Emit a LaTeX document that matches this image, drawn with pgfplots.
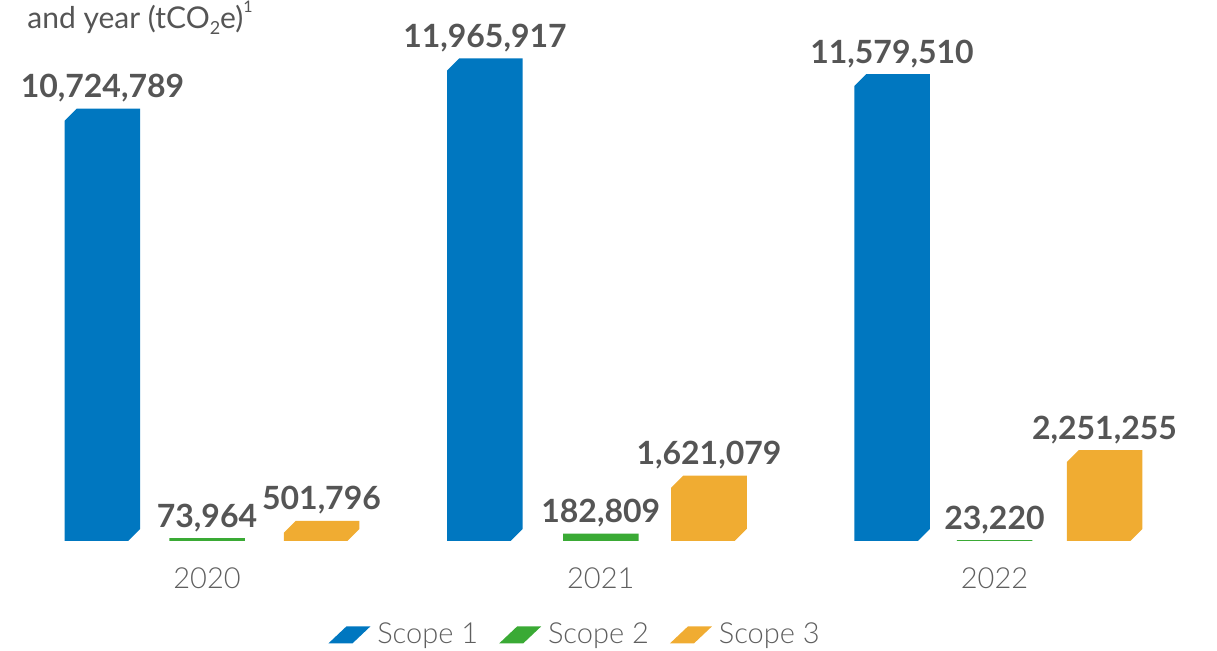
\documentclass[border=0pt]{standalone}
\usepackage{pgfplots}
\pgfplotsset{compat=1.18}
\usepackage{pgfplotstable}
\usepackage{fontspec}
\setmainfont{Lato}
\newfontfamily\latolight{Lato Light}

\definecolor{scopeone}{RGB}{0,119,192}
\definecolor{scopetwo}{RGB}{58,170,53}
\definecolor{scopethree}{RGB}{240,172,50}
\definecolor{labelgrey}{RGB}{85,85,85}
\definecolor{tickgrey}{RGB}{95,95,95}

% emissions per scope and year, printed labels, and where each bar sits
\pgfplotstableread{
x  p1       s1        s1lab       p2  s2      s2lab    p3      s3       s3lab
0  -0.2654  10724789  10,724,789  0   73964   73,964   0.2908  501796   501,796
1  0.7060   11965917  11,965,917  1   182809  182,809  1.2749  1621079  1,621,079
2  1.7397   11579510  11,579,510  2   23220   23,220   2.2794  2251255  2,251,255
}\emissions

% bars with the top-left and bottom-right corners cut off
\makeatletter
\newdimen\chxa \newdimen\chya \newdimen\chxb \newdimen\chyb \newdimen\chc
\def\chamfersize{6bp}
\let\origrectcorners\pgfpathrectanglecorners
\let\origrect\pgfpathrectangle
\def\chamferdraw{%
  \ifdim\chxa>\chxb \chc=\chxa \chxa=\chxb \chxb=\chc \fi
  \ifdim\chya>\chyb \chc=\chya \chya=\chyb \chyb=\chc \fi
  \chc=\chyb \advance\chc by -\chya
  \ifdim\chc>\chamfersize\relax \chc=\chamfersize\relax \fi
  \ifdim\chc<5bp \chc=0pt \fi
  \pgfpathmoveto{\pgfqpoint{\chxa}{\chya}}%
  \pgfpathlineto{\pgfpointadd{\pgfqpoint{\chxb}{\chya}}{\pgfqpoint{-\chc}{0pt}}}%
  \pgfpathlineto{\pgfpointadd{\pgfqpoint{\chxb}{\chya}}{\pgfqpoint{0pt}{\chc}}}%
  \pgfpathlineto{\pgfqpoint{\chxb}{\chyb}}%
  \pgfpathlineto{\pgfpointadd{\pgfqpoint{\chxa}{\chyb}}{\pgfqpoint{\chc}{0pt}}}%
  \pgfpathlineto{\pgfpointadd{\pgfqpoint{\chxa}{\chyb}}{\pgfqpoint{0pt}{-\chc}}}%
  \pgfpathclose}
\def\chamferrect#1#2{%
  \pgf@process{#2}\chxb=\pgf@x \chyb=\pgf@y
  \pgf@process{#1}\chxa=\pgf@x \chya=\pgf@y
  \chamferdraw}
\def\chamferrectsize#1#2{%
  \pgf@process{#2}\chxb=\pgf@x \chyb=\pgf@y
  \pgf@process{#1}\chxa=\pgf@x \chya=\pgf@y
  \advance\chxb by \chxa \advance\chyb by \chya
  \chamferdraw}
\makeatother

\newcommand\parallelogram[1]{%
  \fill[#1] (0bp,-4.25bp) -- (12bp,-4.25bp) -- (21bp,4.25bp) -- (9bp,4.25bp) -- cycle;}

\pgfplotsset{
  chamfered/.style={
    execute at begin plot visualization={%
      \let\pgfpathrectanglecorners\chamferrect
      \let\pgfpathrectangle\chamferrectsize},
    execute at end plot visualization={%
      \let\pgfpathrectanglecorners\origrectcorners
      \let\pgfpathrectangle\origrect}},
  scopebar/.style={
    ybar, bar width=37.75bp, bar shift=0bp, draw=none, chamfered,
    point meta=explicit symbolic, nodes near coords,
    every node near coord/.append style={
      font=\bfseries\fontsize{16bp}{16bp}\selectfont,
      text=labelgrey, anchor=south, inner sep=0pt, yshift=3bp}},
}

\begin{document}
\begin{tikzpicture}
\begin{axis}[
  scale only axis,
  width=608.5bp, height=325.5bp,
  xmin=-0.52571, xmax=2.56508,
  ymin=-2728000, ymax=13416800,
  axis x line=middle, axis y line=none,
  x axis line style={draw=none},
  xtick={0,1,2}, xticklabels={2020,2021,2022},
  ytick=\empty, major tick length=0pt,
  scaled y ticks=false,
  xticklabel style={anchor=base, inner sep=0pt, yshift=-23.5bp,
    font=\latolight\fontsize{14.5bp}{14.5bp}\selectfont, text=tickgrey},
  clip=false,
  legend columns=-1,
  legend style={at={(axis description cs:0.4745,0.0246)}, anchor=center,
    draw=none, fill=none, inner sep=0pt,
    font=\latolight\fontsize{14.5bp}{14.5bp}\selectfont, text=tickgrey,
    nodes={inner ysep=2bp, inner xsep=3.5bp},
    /tikz/every even column/.append style={column sep=7bp}},
]
\addplot[scopebar, fill=scopeone,
  legend image code/.code={\parallelogram{scopeone}}]
  table[x=p1, y=s1, meta=s1lab] {\emissions};
\addlegendentry{Scope 1}
\addplot[scopebar, fill=scopetwo,
  legend image code/.code={\parallelogram{scopetwo}}]
  table[x=p2, y=s2, meta=s2lab] {\emissions};
\addlegendentry{Scope 2}
\addplot[scopebar, fill=scopethree,
  legend image code/.code={\parallelogram{scopethree}}]
  table[x=p3, y=s3, meta=s3lab] {\emissions};
\addlegendentry{Scope 3}

\node[anchor=base west, inner sep=0pt, text=labelgrey,
  font=\fontsize{15bp}{15bp}\selectfont]
  at (rel axis cs:0.0222,0.9555)
  {and year (tCO\raisebox{-0.35ex}{\fontsize{9bp}{9bp}\selectfont 2}e)\raisebox{1.1ex}{\fontsize{8bp}{8bp}\selectfont 1}};
\end{axis}
\pgfresetboundingbox
\path[use as bounding box] (current axis.south west) rectangle (current axis.north east);
\end{tikzpicture}
\end{document}
